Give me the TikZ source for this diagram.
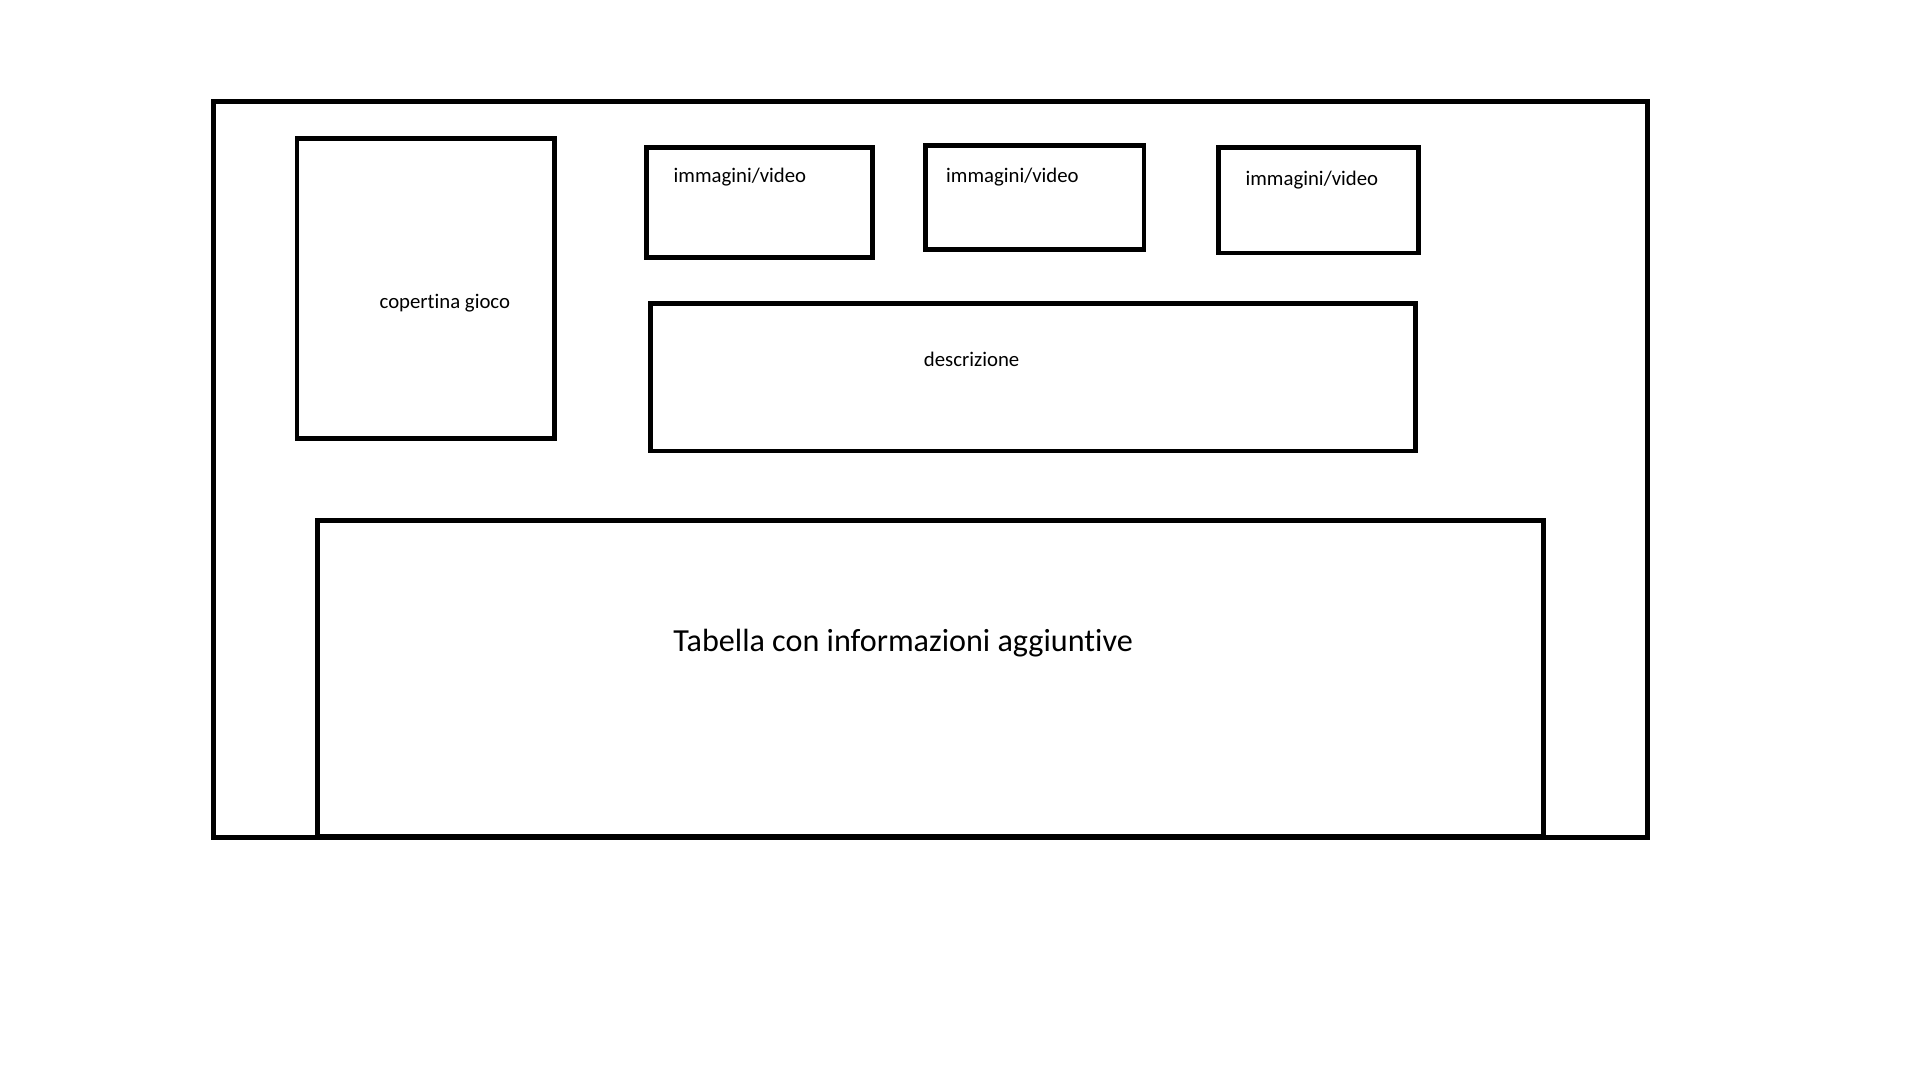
\documentclass[tikz,border=0pt]{standalone}
\usepackage{fontspec}
\setmainfont{Carlito}[Ligatures=NoCommon]
\usetikzlibrary{positioning}

\begin{document}
\begin{tikzpicture}[x=1pt,y=-1pt,
			box/.style={draw,rectangle,line width=4pt,inner sep=0pt,anchor=north west},
			lbl/.style={font=\fontsize{17}{20}\selectfont,inner sep=0pt},
			biglbl/.style={font=\fontsize{26.3}{30}\selectfont,inner sep=0pt}]
			\useasboundingbox (0,0) rectangle (1571,884);
			% page frame
			\node (page) [box,minimum width=1173pt,minimum height=602pt] at (173,81) {};
			% top row
			\node (cover) [box,minimum width=211pt,minimum height=246pt] at (241,111) {};
			\node (media1) [box,minimum width=185pt,minimum height=90pt] at (527,119) {};
			\node (media2) [box,minimum width=179pt,minimum height=85pt] at (755,117) {};
			\node (media3) [box,minimum width=164pt,minimum height=86pt] at (995,119) {};
			\node (descr) [box,minimum width=626pt,minimum height=121pt] at (530,246) {};
			% bottom
			\node (table) [box,minimum width=1003pt,minimum height=258pt] at (258,424) {};
			% texts
			\node (coverlbl) [lbl] at (364,248) {copertina gioco};
			\node (media1lbl) [lbl,anchor=west] at (551,145) {immagini/video};
			\node (media2lbl) [lbl,anchor=west] at (774,145) {immagini/video};
			\node (media3lbl) [lbl,anchor=west] at (1019,147) {immagini/video};
			\node (descrlbl) [lbl] at (795,294) {descrizione};
			\node (tablelbl) [biglbl] at (739,526) {Tabella con informazioni aggiuntive};
		\end{tikzpicture}
\end{document}
